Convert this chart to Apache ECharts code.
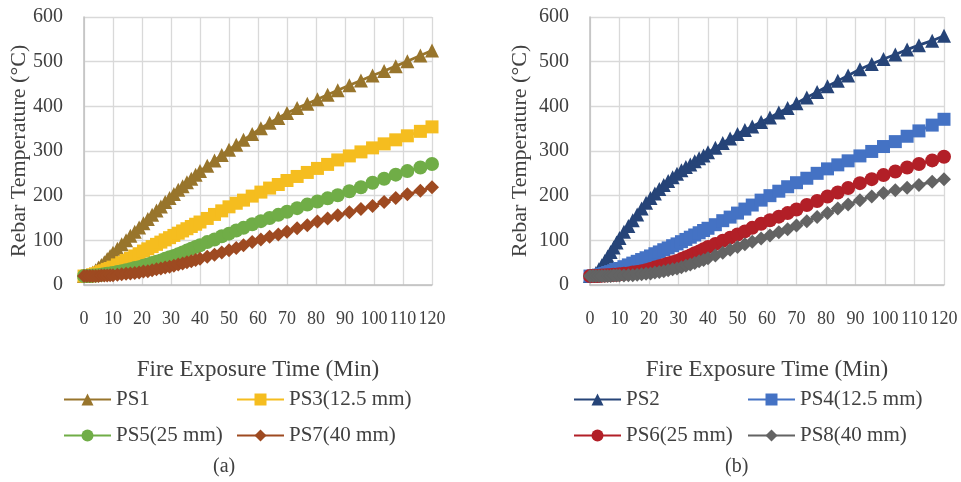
<!DOCTYPE html>
<html>
<head>
<meta charset="utf-8">
<script src="https://cdn.jsdelivr.net/npm/echarts@6/dist/echarts.min.js"></script>
<style>
  html, body { margin: 0; padding: 0; background: #fff; }
  #chart { width: 961px; height: 482px; }
</style>
</head>
<body>
<div id="chart"></div>
<script>
// time steps (min), shared by all series
const times = [0,1,2,3,4,5,6,7,8,9,10,
    11.5,13,14.5,16,17.5,19,20.5,22,23.5,25,26.5,28,29.5,31,32.5,34,35.5,37,38.5,40,
    42.5,45,47.5,50,52.5,55,58,61,64,67,70,73.5,77,80.5,84,87.5,91.5,95.5,99.5,103.5,107.5,111.5,116,120];

// panel (a)
const ps1 = [20,21,24,28,33,39,45,51,58,65,72,
    81,91,100,110,119,129,138,148,157,167,176,186,195,204,213,221,230,238,247,255,
    267,279,291,303,314,325,338,351,363,374,385,396,406,416,426,436,447,458,469,479,490,501,514,525];
const ps3 = [20,20,21,23,25,27,30,32,35,37,40,
    45,50,55,60,65,70,76,81,86,91,96,101,106,111,116,121,126,131,136,141,
    149,158,166,175,183,190,199,208,217,225,234,243,252,261,270,280,289,298,307,316,325,334,344,354];
const ps5 = [20,20,20,21,21,22,23,24,25,26,27,
    29,31,33,35,38,40,43,46,49,52,55,59,62,65,69,73,77,81,85,89,
    96,102,109,115,122,128,136,143,150,157,164,172,180,187,194,201,210,219,229,238,247,255,263,271];
const ps7 = [20,20,20,20,20,20,21,21,21,22,22,
    23,24,25,26,27,28,30,31,33,35,37,39,41,43,46,48,51,53,56,59,
    63,68,73,78,83,89,96,102,108,113,119,127,134,142,149,156,163,170,177,186,195,203,211,219];

// panel (b)
const ps2 = [20,22,27,35,44,54,64,74,84,95,105,
    119,132,145,158,171,184,195,205,215,224,233,241,249,257,264,270,277,284,290,297,
    307,318,328,338,347,355,365,375,386,396,407,420,432,445,457,469,483,495,506,516,527,537,547,558];
const ps4 = [20,20,21,22,24,26,28,30,32,35,37,
    41,45,49,53,57,61,65,70,74,79,83,88,92,97,102,107,112,117,122,127,
    135,144,152,161,170,179,190,200,210,220,229,239,250,260,269,278,289,299,310,321,333,345,358,371];
const ps6 = [20,20,20,20,21,21,22,22,23,23,24,
    25,26,28,29,31,33,36,39,42,45,48,51,54,58,62,66,71,75,80,85,
    92,99,106,113,120,128,137,145,153,161,169,179,188,198,207,217,228,237,246,254,263,271,279,287];
const ps8 = [20,20,20,20,20,20,20,20,21,21,21,
    21,22,22,23,24,25,26,28,29,31,33,35,37,40,43,46,49,53,56,60,
    66,72,79,85,91,97,104,111,118,125,133,143,152,161,171,180,190,198,206,212,218,224,231,237];

const xTicks = { min: 0, max: 120, interval: 10 };
const yTicks = { min: 0, max: 600, interval: 100 };

const FONT = '"Liberation Serif", "DejaVu Serif", serif';
const TXT = '#404040';

const myChart = echarts.init(document.getElementById('chart'));

function pairs(ys) {
    return times.map((t, i) => [t, ys[i]]);
}

function xAxis(idx) {
    return {
        type: 'value', gridIndex: idx,
        min: xTicks.min, max: xTicks.max, interval: xTicks.interval,
        name: 'Fire Exposure Time (Min)', nameLocation: 'middle', nameGap: 73,
        nameMoveOverlap: false,
        nameTextStyle: { fontFamily: FONT, fontSize: 23, color: TXT },
        axisLine: { lineStyle: { color: '#bfbfbf', width: 1.5 } },
        axisTick: { show: false },
        axisLabel: { fontFamily: FONT, fontSize: 18, color: TXT, margin: 25 },
        splitLine: { lineStyle: { color: '#d9d9d9', width: 1.3 } }
    };
}

function yAxis(idx, gap) {
    return {
        type: 'value', gridIndex: idx,
        min: yTicks.min, max: yTicks.max, interval: yTicks.interval,
        name: 'Rebar Temperature (°C)', nameLocation: 'middle', nameGap: gap, nameRotate: 90,
        nameMoveOverlap: false,
        nameTextStyle: { fontFamily: FONT, fontSize: 22, color: TXT },
        axisLine: { show: true, lineStyle: { color: '#bfbfbf', width: 1.5 } },
        axisTick: { show: false },
        axisLabel: { fontFamily: FONT, fontSize: 20, color: TXT, margin: 21 },
        splitLine: { lineStyle: { color: '#d9d9d9', width: 1.3 } }
    };
}

function line(name, ys, color, symbol, size, idx) {
    return {
        name: name, type: 'line', xAxisIndex: idx, yAxisIndex: idx,
        data: pairs(ys),
        symbol: symbol, symbolSize: size,
        lineStyle: { color: color, width: 2.75 },
        itemStyle: { color: color },
        animation: false
    };
}

function legend(name, left, top) {
    return {
        data: [name], left: left, top: top, padding: 0,
        itemWidth: 47, itemHeight: 15, itemGap: 5,
        textStyle: { fontFamily: FONT, fontSize: 21, color: TXT }
    };
}

const option = {
    backgroundColor: '#fff',
    grid: [
        { left: 84, top: 17, width: 348, height: 268 },
        { left: 590, top: 17, width: 354, height: 268 }
    ],
    xAxis: [xAxis(0), xAxis(1)],
    yAxis: [yAxis(0, 54), yAxis(1, 59)],
    legend: [
        legend('PS1', 63, 389),
        legend('PS3(12.5 mm)', 236, 389),
        legend('PS5(25 mm)', 63, 425),
        legend('PS7(40 mm)', 236, 425),
        legend('PS2', 573, 389),
        legend('PS4(12.5 mm)', 747, 389),
        legend('PS6(25 mm)', 573, 425),
        legend('PS8(40 mm)', 747, 425)
    ],
    series: [
        line('PS1', ps1, '#98752c', 'triangle', 14, 0),
        line('PS3(12.5 mm)', ps3, '#f5bd1f', 'rect', 13, 0),
        line('PS5(25 mm)', ps5, '#70ad47', 'circle', 14, 0),
        line('PS7(40 mm)', ps7, '#9e4a21', 'diamond', 14, 0),
        line('PS2', ps2, '#264478', 'triangle', 14, 1),
        line('PS4(12.5 mm)', ps4, '#4472c4', 'rect', 13, 1),
        line('PS6(25 mm)', ps6, '#b21f27', 'circle', 14, 1),
        line('PS8(40 mm)', ps8, '#636363', 'diamond', 14, 1)
    ],
    graphic: [
        { type: 'text', left: 213, top: 457, style: { text: '(a)', font: '20px ' + FONT, fill: TXT } },
        { type: 'text', left: 725, top: 457, style: { text: '(b)', font: '20px ' + FONT, fill: TXT } }
    ]
};

option && myChart.setOption(option);
</script>
</body>
</html>
